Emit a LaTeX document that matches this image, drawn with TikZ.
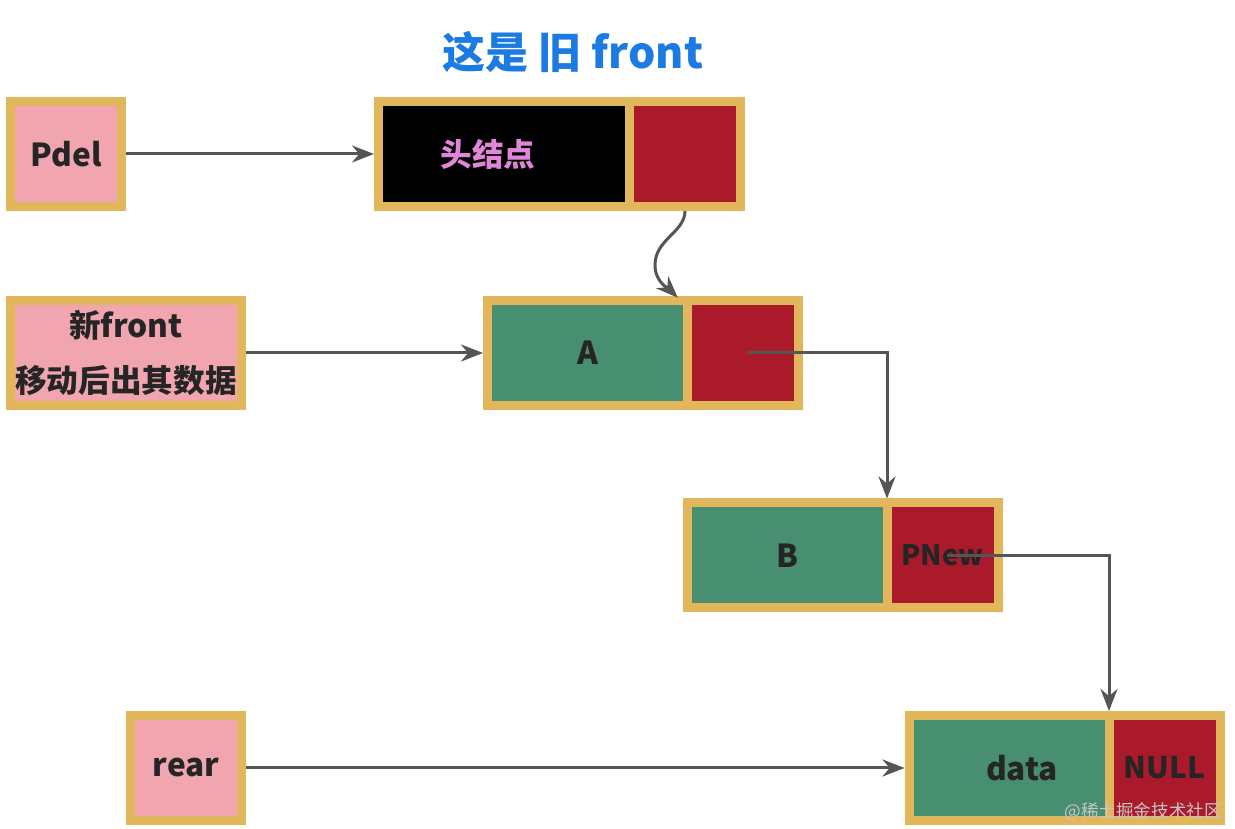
\documentclass[tikz,border=0pt]{standalone}
\usepackage{fontspec}
\setmainfont{Noto Sans CJK SC}
\usetikzlibrary{arrows.meta,positioning}
\definecolor{NodeGold}{HTML}{E2B75C}
\definecolor{NodePink}{HTML}{F1A5AE}
\definecolor{NodeGreen}{HTML}{488F71}
\definecolor{NodeRed}{HTML}{AA1A2B}
\definecolor{LinkGray}{HTML}{555555}
\definecolor{TitleBlue}{HTML}{1B7BE3}
\definecolor{HeadViolet}{HTML}{E085D8}
\definecolor{LabelDark}{HTML}{252525}

\begin{document}
\begin{tikzpicture}[font=\fontsize{18}{31}\selectfont\bfseries,
  cell/.style={draw=NodeGold,line width=0.18cm,outer sep=0pt,inner sep=0pt,
    minimum height=2.1cm,text=LabelDark},
  datacell/.style={cell,fill=NodeGreen,minimum width=4cm},
  ptrcell/.style={cell,fill=NodeRed,minimum width=2.22cm},
  tagbox/.style={cell,fill=NodePink,minimum width=2.22cm,align=center},
  link/.style={draw=LinkGray,line width=0.06cm,shorten <=0.09cm,shorten >=0.09cm,
    -{Stealth[length=0.44cm,width=0.34cm]}}]
  \useasboundingbox (0,0) rectangle (24.7,-16.58);
  \node[font=\fontsize{24.5}{28}\selectfont\bfseries,text=TitleBlue] (title) at (11.46,-1.04) {这是 旧 front};

  % the list
  \node[cell,fill=black,minimum width=5.02cm,
    label={[text=HeadViolet,xshift=-0.32cm]center:头结点}] (headdata) at (10.08,-3.08) {};
  \node[ptrcell,right=0pt of headdata] (headptr) {};
  \node[datacell] (adata) at (11.75,-7.06) {A};
  \node[ptrcell,right=0pt of adata] (aptr) {};
  \node[datacell] (bdata) at (15.74,-11.11) {B};
  \node[ptrcell,right=0pt of bdata,font=\fontsize{16}{20}\selectfont\bfseries] (bptr) {PNew};
  \node[datacell,label={[text=LabelDark,xshift=0.26cm]center:data}] (ddata) at (20.18,-15.36) {};
  \node[ptrcell,right=0pt of ddata,font=\fontsize{17}{20}\selectfont\bfseries] (dptr) {NULL};

  % pointers
  \node[tagbox] (pdel) at (1.32,-3.08) {Pdel};
  \node[tagbox,minimum width=4.62cm] (newfront) at (2.52,-7.06) {新front\\移动后出其数据};
  \node[tagbox] (rear) at (3.72,-15.36) {rear};

  \coordinate (bend) at (13.1,-5.3);
  \coordinate (aentry) at (13.62,-6.02);

  \draw[link] (pdel) -- (headdata);
  \draw[link] (headptr.south) to[out=-90,in=90] (bend) to[out=-90,in=135] (aentry);
  \draw[link] (newfront) -- (adata);
  \draw[link] (aptr.center) -| (bptr.north west);
  \draw[link] (bptr.center) -| (dptr.north west);
  \draw[link] (rear) -- (ddata);

  \node[font=\fontsize{10}{12}\selectfont,text=gray!45,anchor=east] (mark) at (24.56,-16.24) {@稀土掘金技术社区};
\end{tikzpicture}
\end{document}
